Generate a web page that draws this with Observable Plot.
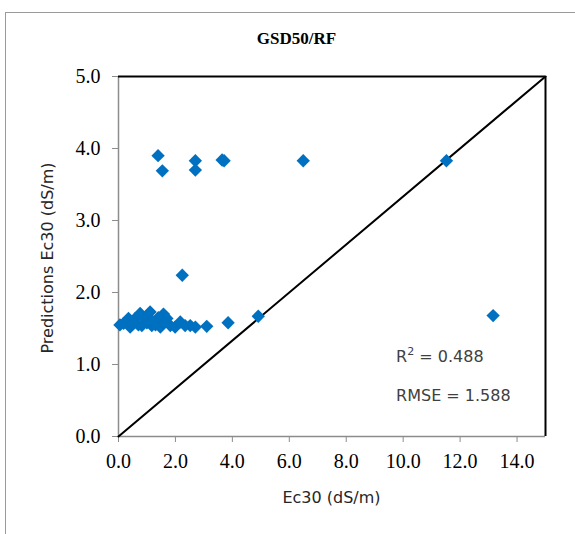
<!DOCTYPE html>
<html>
<head>
<meta charset="utf-8">
<script src="https://cdn.jsdelivr.net/npm/d3@7"></script>
<script src="https://cdn.jsdelivr.net/npm/@observablehq/plot@0.6"></script>
<style>
  html, body { margin: 0; padding: 0; background: #fff; }
  #chart { position: relative; width: 575px; height: 534px; overflow: hidden; }
</style>
</head>
<body>
<div id="chart"></div>
<script>
// Observed Ec30 (dS/m)
const observed = [
  1.39, 1.54, 2.70, 2.70, 3.64, 3.71, 6.49, 11.52,
  2.24, 3.85, 4.91, 13.16,
  0.05, 0.18, 0.35, 0.41, 0.59, 0.76, 0.82, 0.94, 1.11, 1.17,
  1.35, 1.47, 1.58, 1.70, 1.82, 1.99, 2.17, 2.34, 2.52, 2.70, 3.10,
  0.70, 1.00, 1.30, 1.60, 1.40, 1.20, 0.50
];
// Predicted Ec30 (dS/m)
const predicted = [
  3.90, 3.69, 3.83, 3.70, 3.84, 3.83, 3.83, 3.83,
  2.24, 1.58, 1.67, 1.68,
  1.55, 1.57, 1.64, 1.52, 1.64, 1.71, 1.54, 1.64, 1.73, 1.54,
  1.61, 1.52, 1.70, 1.64, 1.54, 1.52, 1.59, 1.54, 1.54, 1.52, 1.53,
  1.55, 1.58, 1.55, 1.58, 1.65, 1.60, 1.56
];
const lineX = [0, 15];
const lineY = [0, 5];
const xTicks = [0, 2, 4, 6, 8, 10, 12, 14];
const yTicks = [0, 1, 2, 3, 4, 5];
const titleText = "GSD50/RF";
const r2Value = "0.488";
const rmseText = "RMSE = 1.588";

const points = observed.map((x, i) => ({x, y: predicted[i]}));
const line = lineX.map((x, i) => ({x, y: lineY[i]}));

const sans = "'DejaVu Sans', 'Noto Sans', sans-serif";
const serif = "'Liberation Serif', 'Times New Roman', serif";

const W = 575, H = 534;
const plot = Plot.plot({
  width: W,
  height: H,
  marginLeft: 118,
  marginRight: 30,
  marginTop: 76,
  marginBottom: 98,
  style: {fontFamily: serif, fontSize: "20px", background: "transparent", color: "black"},
  x: {domain: [0, 15]},
  y: {domain: [0, 5]},
  marks: [
    Plot.axisX({ticks: xTicks, tickFormat: d => d.toFixed(1), tickSize: 6, tickPadding: 11, stroke: "#8c8c8c", fill: "black", fontSize: 20, label: null}),
    Plot.axisY({ticks: yTicks, tickFormat: d => d.toFixed(1), tickSize: 6, tickPadding: 12, stroke: "#8c8c8c", fill: "black", fontSize: 20, label: null}),
    Plot.ruleX([0], {stroke: "#8c8c8c", strokeWidth: 1.5}),
    Plot.ruleY([0], {stroke: "#8c8c8c", strokeWidth: 1.5}),
    Plot.ruleY([5], {stroke: "black", strokeWidth: 2}),
    Plot.ruleX([15], {stroke: "black", strokeWidth: 2}),
    Plot.line(line, {x: "x", y: "y", stroke: "black", strokeWidth: 2}),
    Plot.dot(points, {x: "x", y: "y", symbol: "diamond2", r: 6, fill: "#0070C0", stroke: "none"}),
    Plot.text(["R2 = " + r2Value], {x: 9.75, y: 1.1, text: d => d, textAnchor: "start", fontFamily: sans, fontSize: 16, fill: "#404040", ariaLabel: "r2-text"}),
    Plot.text([rmseText], {x: 9.75, y: 0.57, text: d => d, textAnchor: "start", fontFamily: sans, fontSize: 16, fill: "#404040"})
  ]
});

const svg = d3.select(plot);
// outer frame
svg.insert("rect", ":first-child")
  .attr("x", 5.5).attr("y", 12.5).attr("width", 600).attr("height", 600)
  .attr("fill", "white").attr("stroke", "#9a9a9a").attr("stroke-width", 1);
// R² annotation: raise the superscript
svg.selectAll("text").filter(function() { return this.textContent === "R2 = " + r2Value; })
  .each(function() {
    const t = d3.select(this);
    t.text(null);
    t.append("tspan").text("R");
    t.append("tspan").attr("font-size", 11).attr("dy", "-7").text("2");
    t.append("tspan").attr("dy", "7").text(" = " + r2Value);
  });
// title
svg.append("text")
  .attr("x", 296.5).attr("y", 43.5)
  .attr("text-anchor", "middle")
  .attr("font-family", serif)
  .attr("font-weight", "bold").attr("font-size", 17)
  .text(titleText);
// axis labels
svg.append("text")
  .attr("x", 331.5).attr("y", 503)
  .attr("text-anchor", "middle")
  .attr("font-family", sans)
  .attr("font-size", 16).attr("fill", "#262626")
  .text("Ec30 (dS/m)");
svg.append("text")
  .attr("transform", "translate(53,258) rotate(-90)")
  .attr("text-anchor", "middle")
  .attr("font-family", sans)
  .attr("font-size", 16).attr("fill", "#262626")
  .text("Predictions Ec30 (dS/m)");

document.getElementById("chart").appendChild(plot);
</script>
</body>
</html>
